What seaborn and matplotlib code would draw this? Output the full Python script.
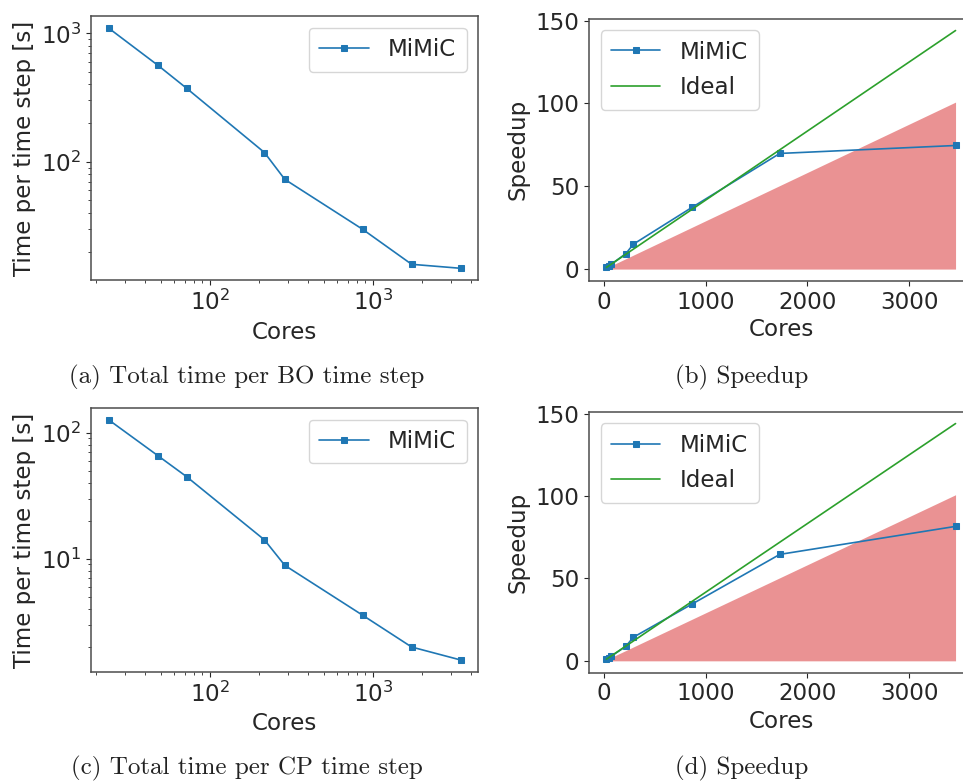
import numpy as np
import pandas as pd
import matplotlib
matplotlib.use("Agg")
import matplotlib.pyplot as plt
import seaborn as sns

# ---- data ----
cores = [24, 48, 72, 216, 288, 864, 1728, 3456]
time_bo = [1094, 563, 373, 118, 72.9, 29.8, 15.9, 14.8]
speedup_bo = [1.0, 1.95, 2.95, 9.4, 15.0, 37.2, 69.8, 74.6]
time_cp = [126, 65.6, 44.7, 14.1, 8.85, 3.56, 1.99, 1.57]
speedup_cp = [1.0, 1.92, 2.82, 8.9, 14.3, 34.4, 64.6, 81.6]
ideal = [1, 2, 3, 9, 12, 36, 72, 144]
threshold = [0.7, 1.4, 2.1, 6.3, 8.4, 25.2, 50.4, 100.8]
captions = ["(a) Total time per BO time step", "(b) Speedup",
            "(c) Total time per CP time step", "(d) Speedup"]

sns.set_style("ticks", {"axes.edgecolor": ".3"})
FS = 16.6
plt.rcParams.update({"font.size": FS, "axes.labelsize": FS,
                     "xtick.labelsize": FS, "ytick.labelsize": FS,
                     "legend.fontsize": FS, "axes.linewidth": 1.1})

W, H = 963, 782
fig = plt.figure(figsize=(W / 100, H / 100), dpi=100)


def box(l, r, t, b):
    return [l / W, (H - b) / H, (r - l) / W, (b - t) / H]


BLUE = sns.color_palette("tab10")[0]
GREEN = sns.color_palette("tab10")[2]
RED = sns.color_palette("tab10")[3]

LEG = dict(handlelength=2.15, handletextpad=0.85, labelspacing=0.55,
           borderpad=0.45)


def time_panel(rect, times):
    ax = fig.add_axes(rect)
    df = pd.DataFrame({"Cores": cores, "Time": times})
    sns.lineplot(data=df, x="Cores", y="Time", ax=ax, color=BLUE, marker="s",
                 markersize=5, markeredgecolor=BLUE, linewidth=1.2,
                 label="MiMiC")
    ax.set_xscale("log")
    ax.set_yscale("log")
    ax.set_xlabel("Cores")
    ax.set_ylabel("Time per time step [s]")
    ax.legend(loc="upper right", **LEG)
    return ax


def speed_panel(rect, speed):
    ax = fig.add_axes(rect)
    df = pd.DataFrame({"Cores": cores, "Speedup": speed, "Ideal": ideal,
                       "Thr": threshold})
    ax.fill_between(df["Cores"], 0, df["Thr"], color=RED, alpha=0.5,
                    linewidth=0, zorder=1)
    sns.lineplot(data=df, x="Cores", y="Speedup", ax=ax, color=BLUE,
                 marker="s", markersize=5, markeredgecolor=BLUE,
                 linewidth=1.2, label="MiMiC", zorder=2)
    sns.lineplot(data=df, x="Cores", y="Ideal", ax=ax, color=GREEN,
                 linewidth=1.2, label="Ideal", zorder=3)
    ax.set_xlabel("Cores", labelpad=3)
    ax.set_ylabel("Speedup")
    ax.set_yticks([0, 50, 100, 150])
    ax.set_xticks([0, 1000, 2000, 3000])
    ax.legend(loc="upper left", **LEG)
    return ax


time_panel(box(91.3, 478.3, 16.3, 280.3), time_bo)
speed_panel(box(589, 973, 18.6, 281), speedup_bo)
time_panel(box(91.3, 478.3, 408, 672), time_cp)
speed_panel(box(589, 973, 411.7, 672.7), speedup_cp)

cap_pos = [(247, 377), (742, 377), (247, 768), (742, 768)]
for txt, (cx, cy) in zip(captions, cap_pos):
    fig.text(cx / W, 1 - cy / H, txt, ha="center", va="center",
             family="cmr10", fontsize=18, color="#222222")

fig.savefig("out.png", dpi=100)
